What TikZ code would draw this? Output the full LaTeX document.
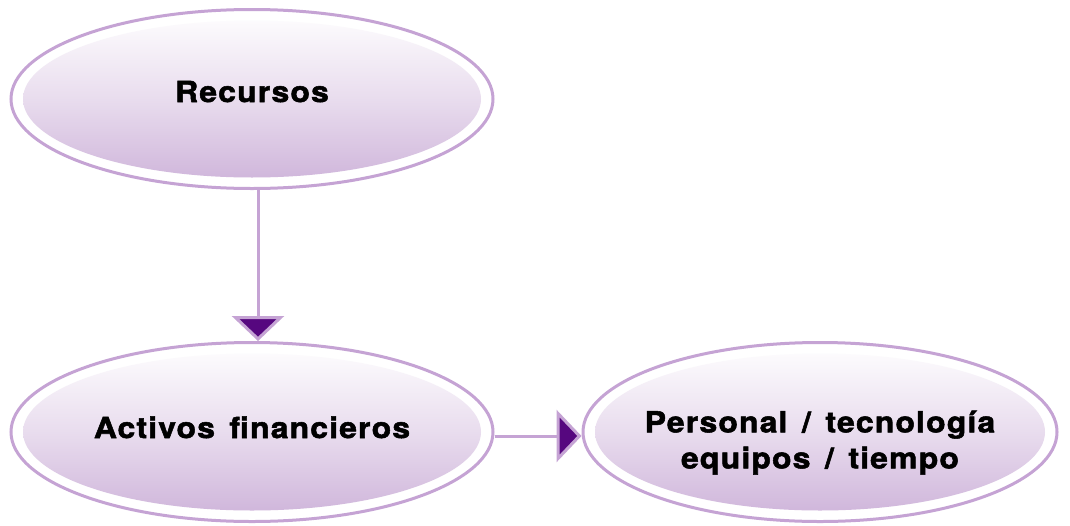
\documentclass[tikz,border=0pt]{standalone}
\usepackage{fontspec}
\setmainfont{TeX Gyre Heros}[LetterSpace=4, WordSpace=1.45,
    BoldFeatures={FakeBold=1.8, FakeStretch=1.1}]
\usetikzlibrary{positioning}
\usetikzlibrary{shapes.geometric}
\usetikzlibrary{arrows.meta}
\usetikzlibrary{calc}

\definecolor{lila}{HTML}{C5A3D4}
\definecolor{lilafondo}{HTML}{CDB2D9}
\definecolor{morado}{HTML}{56077F}

\begin{document}
\begin{tikzpicture}[x=1pt, y=1pt,
    oval/.style={shape=ellipse, draw=lila, line width=3pt, fill=white,
        minimum width=482pt, minimum height=179pt, inner ysep=0pt, inner xsep=-80pt,
        align=center, font=\fontsize{29}{36}\selectfont\bfseries,
        path picture={\shade[top color=white, bottom color=lilafondo, middle color=lilafondo!45]
            let \p1=(path picture bounding box.north east),
                \p2=(path picture bounding box.center) in
            (\p2) ellipse ({\x1-\x2-12pt} and {\y1-\y2-11pt});}},
    flecha/.style={draw=lila, line width=3pt,
        -{Triangle[length=25pt, width=52pt, fill=morado]}}]
    \useasboundingbox (0,0) rectangle (1070,-525);

    \node[oval, text height=20pt, text depth=14pt] (rec) at (252,-99) {Recursos};
    \node[oval, text height=20pt, text depth=8pt] (act) at (252,-432) {Activos financieros};
    \node[oval, minimum width=474pt, text height=79pt] (per) at (820,-432)
        {Personal / tecnología\\equipos / tiempo};

    \draw[flecha] ([xshift=6pt]rec.south) -- ([xshift=6pt]act.north);
    \draw[flecha] ([yshift=-4pt]act.east) -- ([yshift=-4pt]per.west);
\end{tikzpicture}
\end{document}
